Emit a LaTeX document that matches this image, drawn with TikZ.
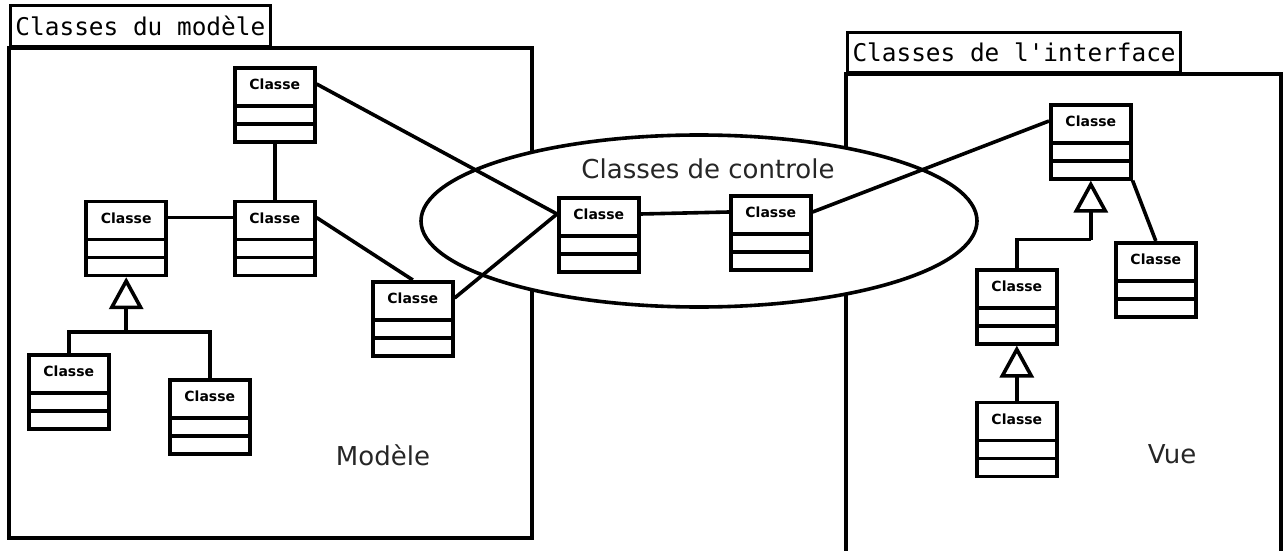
\documentclass[tikz,border=0pt]{standalone}
\usepackage{fontspec}
\setmainfont{DejaVu Sans}
\setmonofont{DejaVu Sans Mono}
\usetikzlibrary{arrows.meta, shapes.geometric, positioning}

\tikzset{
  classbox/.style={draw, fill=white, anchor=north west, minimum width=40pt,
    minimum height=37pt, inner sep=0pt, text height=11pt, text depth=26pt,
    font=\bfseries\fontsize{7}{8}\selectfont,
    path picture={
      \draw ([yshift=-19pt]path picture bounding box.north west) -- ([yshift=-19pt]path picture bounding box.north east);
      \draw ([yshift=-28pt]path picture bounding box.north west) -- ([yshift=-28pt]path picture bounding box.north east);}},
  tab/.style={draw, fill=white, anchor=south west, inner xsep=2.5pt, line width=1.5pt,
    minimum height=20.5pt, font=\ttfamily\fontsize{12.2}{14}\selectfont},
  lbl/.style={font=\fontsize{13}{15}\selectfont, text=black!85},
  ctrl/.style={ellipse, draw, fill=white, inner sep=0pt,
    minimum width=278pt, minimum height=86pt},
  gen/.style={-{Triangle[open, length=16pt, width=17pt]}}
}

\begin{document}
\begin{tikzpicture}[x=0.5pt, y=-0.5pt, line width=1.8pt, node distance=1cm]
  \useasboundingbox (0,0) rectangle (1284,551);

  \draw (9,48) rectangle (532,538);
  \node[tab] (mtab) at (9,48) {Classes du modèle};
  \draw (846,551) |- (1281,74) -- (1281,551);
  \node[tab, minimum height=20pt] (vtab) at (846,74) {Classes de l'interface};

  \node[ctrl] (ctrl) at (699,221) {};
  \node[lbl] (ctrltxt) at (708,169) {Classes de controle};
  \node[lbl] (modele) at (383,455) {Modèle};
  \node[lbl] (vue) at (1172,454) {Vue};

  \node[classbox] (mA) at (233,66) {Classe};
  \node[classbox, below=28pt of mA] (mC) {Classe};
  \node[classbox, left=32.5pt of mC] (mB) {Classe};
  \node[classbox] (mD) at (371,280) {Classe};
  \node[classbox] (mE) at (27,353) {Classe};
  \node[classbox] (mF) at (168,378) {Classe};

  \node[classbox] (cA) at (557,196) {Classe};
  \node[classbox] (cB) at (729,194) {Classe};

  \node[classbox] (vA) at (1049,103) {Classe};
  \node[classbox] (vB) at (1114,241) {Classe};
  \node[classbox] (vC) at (975,268) {Classe};
  \node[classbox, below=27.5pt of vC] (vD) {Classe};

  \draw (mA) -- (mC);
  \draw ([yshift=-9pt]mB.north east) -- ([yshift=-9pt]mC.north west);
  \draw ([yshift=-9pt]mA.north east) -- ([yshift=-9pt]cA.north west);
  \draw ([yshift=-9pt]mC.north east) -- (mD.north);
  \draw ([yshift=-9pt]mD.north east) -- ([yshift=-9pt]cA.north west);
  \draw ([yshift=-9pt]cA.north east) -- ([yshift=-9pt]cB.north west);
  \draw ([yshift=-9pt]cB.north east) -- ([yshift=-9pt]vA.north west);
  \draw (vA.south east) -- (vB.north);

  \coordinate (mjoin) at ([yshift=-27.5pt]mB.south);
  \draw (mE.north) |- (mjoin) -| (mF.north);
  \draw[gen] (mjoin) -- (mB.south);

  \coordinate (vjoin) at ([yshift=-29.5pt]vA.south);
  \draw (vC.north) |- (vjoin);
  \draw[gen] (vjoin) -- (vA.south);
  \draw[gen] (vD.north) -- (vC.south);
\end{tikzpicture}
\end{document}
